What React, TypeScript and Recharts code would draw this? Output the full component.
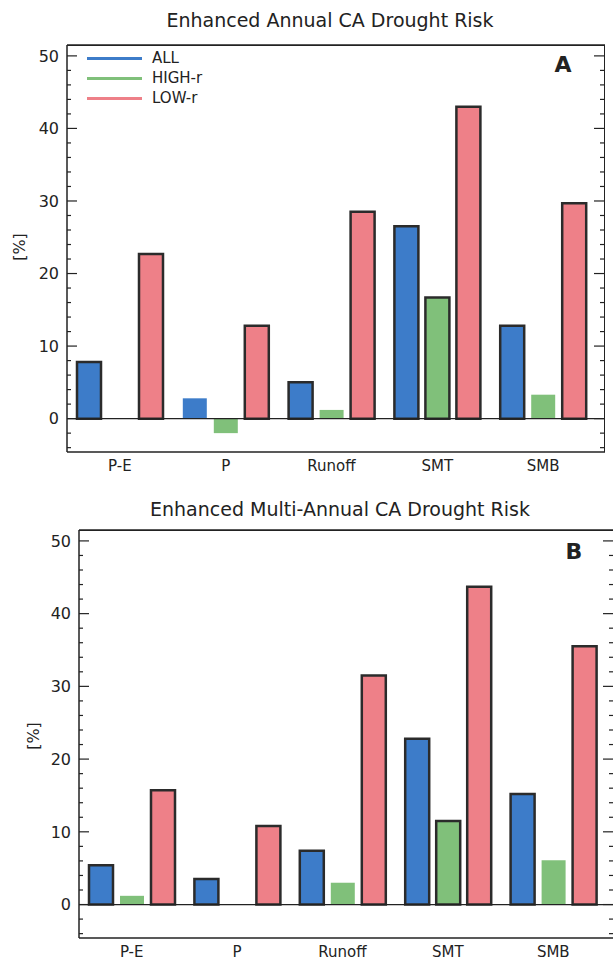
import { BarChart, Bar, XAxis, YAxis, Cell, ReferenceLine, Legend } from "recharts"

const categories = ["P-E", "P", "Runoff", "SMT", "SMB"]
const seriesNames = ["ALL", "HIGH-r", "LOW-r"]
const yTicks = [-4, -2, 0, 2, 4, 6, 8, 10, 12, 14, 16, 18, 20, 22, 24, 26, 28, 30, 32, 34, 36, 38, 40, 42, 44, 46, 48, 50]

// panel A: annual risk
const annualAll = [7.8, 2.8, 5.0, 26.5, 12.8]
const annualHigh = [0, -2.0, 1.2, 16.7, 3.3]
const annualLow = [22.7, 12.8, 28.5, 43.0, 29.7]
// bars drawn with a black outline in the figure
const annualAllSig = [true, false, true, true, true]
const annualHighSig = [false, false, false, true, false]
const annualLowSig = [true, true, true, true, true]

// panel B: multi-annual risk
const multiAll = [5.4, 3.5, 7.4, 22.8, 15.2]
const multiHigh = [1.2, 0, 3.0, 11.5, 6.1]
const multiLow = [15.7, 10.8, 31.5, 43.7, 35.5]
const multiAllSig = [true, true, true, true, true]
const multiHighSig = [false, false, false, true, false]
const multiLowSig = [true, true, true, true, true]

const blue = "#3d7cc9"
const green = "#80c07a"
const red = "#ee8088"
const ink = "#222"
const font = "DejaVu Sans"

const leftTick = (p: any) => {
  const v = p.payload.value
  const major = v % 10 === 0
  return (
    <g>
      <line x1={p.x} x2={p.x + (major ? 10 : 4)} y1={p.y} y2={p.y} stroke={ink} strokeWidth={1.2} />
      {major && (
        <text x={p.x - 8} y={p.y} dy="0.36em" textAnchor="end" fontSize={16} fontFamily={font} fill={ink}>
          {v}
        </text>
      )}
    </g>
  )
}

// right axis is 1px wide, its line sits at p.x - 1
const rightTick = (p: any) => {
  const major = p.payload.value % 10 === 0
  const x = p.x - 1
  return <line x1={x} x2={x - (major ? 10 : 4)} y1={p.y} y2={p.y} stroke={ink} strokeWidth={1.2} />
}

const legendContent = (props: any) => (
  <div>
    {(props.payload || []).map((e: any, i: number) => (
      <div key={i} style={{ display: "flex", alignItems: "center", height: 20 }}>
        <span style={{ display: "inline-block", width: 55, height: 3, background: e.color, marginRight: 10 }} />
        <span style={{ fontSize: 15, fontFamily: font, color: ink }}>{e.value}</span>
      </div>
    ))}
  </div>
)

function Panel(props: any) {
  const { title, tag, all, high, low, allSig, highSig, lowSig, showLegend, top, width, height, left, right, plotTop, xHeight, padRight, titleX, titleY, tagX, tagY, unitX, unitY } = props
  const rows = categories.map((name, i) => ({ name, all: all[i], high: high[i], low: low[i] }))
  const outline = (sig: boolean[]) =>
    rows.map((_, i) => <Cell key={i} stroke={sig[i] ? "#2b2b2b" : "none"} strokeWidth={sig[i] ? 2.5 : 0} />)

  return (
    <div style={{ position: "absolute", left: 0, top, width: 613, height, overflow: "hidden" }}>
      <div style={{ position: "absolute", left: titleX - 250, top: titleY - 12, width: 500, textAlign: "center", fontFamily: font, fontSize: 19, lineHeight: "24px", color: ink }}>
        {title}
      </div>
      <BarChart width={width} height={height} data={rows} margin={{ top: plotTop - 1, right: right - 1, left: 0, bottom: 0 }} barSize={24} barGap={7}>
        <XAxis dataKey="name" height={xHeight} interval={0} tickLine={false} tickSize={0} tickMargin={8} padding={{ left: 0, right: padRight }} axisLine={{ stroke: ink, strokeWidth: 1.5 }} tick={{ fill: ink, fontSize: 15, fontFamily: font }} />
        <XAxis xAxisId="top" dataKey="name" orientation="top" height={1} tick={false} tickLine={false} padding={{ left: 0, right: padRight }} axisLine={{ stroke: ink, strokeWidth: 1.5 }} />
        <YAxis yAxisId="left" type="number" width={left} domain={[-4.6, 51.5]} allowDataOverflow ticks={yTicks} interval={0} tickLine={false} tickSize={0} tickMargin={0} tick={leftTick} axisLine={{ stroke: ink, strokeWidth: 1.5 }} />
        <YAxis yAxisId="right" type="number" orientation="right" width={1} domain={[-4.6, 51.5]} allowDataOverflow ticks={yTicks} interval={0} tickLine={false} tickSize={0} tickMargin={0} tick={rightTick} axisLine={false} />
        <ReferenceLine yAxisId="left" y={0} stroke={ink} strokeWidth={1.2} />
        {showLegend && (
          <Legend layout="vertical" align="center" verticalAlign="middle" content={legendContent} wrapperStyle={{ left: 87, top: 48, width: 130 }} />
        )}
        <Bar yAxisId="left" dataKey="all" name={seriesNames[0]} fill={blue} isAnimationActive={false}>
          {outline(allSig)}
        </Bar>
        <Bar yAxisId="left" dataKey="high" name={seriesNames[1]} fill={green} isAnimationActive={false}>
          {outline(highSig)}
        </Bar>
        <Bar yAxisId="left" dataKey="low" name={seriesNames[2]} fill={red} isAnimationActive={false}>
          {outline(lowSig)}
        </Bar>
      </BarChart>
      {/* top and right sides of the box frame */}
      <div style={{ position: "absolute", left, top: plotTop, width: width - right - left, height: height - xHeight - plotTop, boxSizing: "border-box", borderTop: `1.5px solid ${ink}`, borderRight: `1.5px solid ${ink}`, pointerEvents: "none" }} />
      <div style={{ position: "absolute", left: tagX - 20, top: tagY - 14, width: 40, textAlign: "center", fontFamily: font, fontWeight: "bold", fontSize: 22, lineHeight: "28px", color: ink }}>
        {tag}
      </div>
      <div style={{ position: "absolute", left: unitX - 20, top: unitY - 10, width: 40, height: 20, textAlign: "center", fontFamily: font, fontSize: 16, lineHeight: "20px", color: ink, transform: "rotate(-90deg)" }}>
        [%]
      </div>
    </div>
  )
}

export default function App() {
  return (
    <div style={{ position: "absolute", left: 0, top: 0, width: 613, height: 963, background: "#fff", overflow: "hidden" }}>
      <Panel
        title="Enhanced Annual CA Drought Risk"
        tag="A"
        all={annualAll}
        high={annualHigh}
        low={annualLow}
        allSig={annualAllSig}
        highSig={annualHighSig}
        lowSig={annualLowSig}
        showLegend
        top={0}
        width={613}
        height={480}
        left={67}
        right={8}
        plotTop={45}
        xHeight={28}
        padRight={9}
        titleX={330}
        titleY={20}
        tagX={563}
        tagY={65}
        unitX={20}
        unitY={247}
      />
      <Panel
        title="Enhanced Multi-Annual CA Drought Risk"
        tag="B"
        all={multiAll}
        high={multiHigh}
        low={multiLow}
        allSig={multiAllSig}
        highSig={multiHighSig}
        lowSig={multiLowSig}
        showLegend={false}
        top={480}
        width={620}
        height={483}
        left={79}
        right={6}
        plotTop={50}
        xHeight={25}
        padRight={8}
        titleX={340}
        titleY={29}
        tagX={574}
        tagY={72}
        unitX={34}
        unitY={256}
      />
    </div>
  )
}
